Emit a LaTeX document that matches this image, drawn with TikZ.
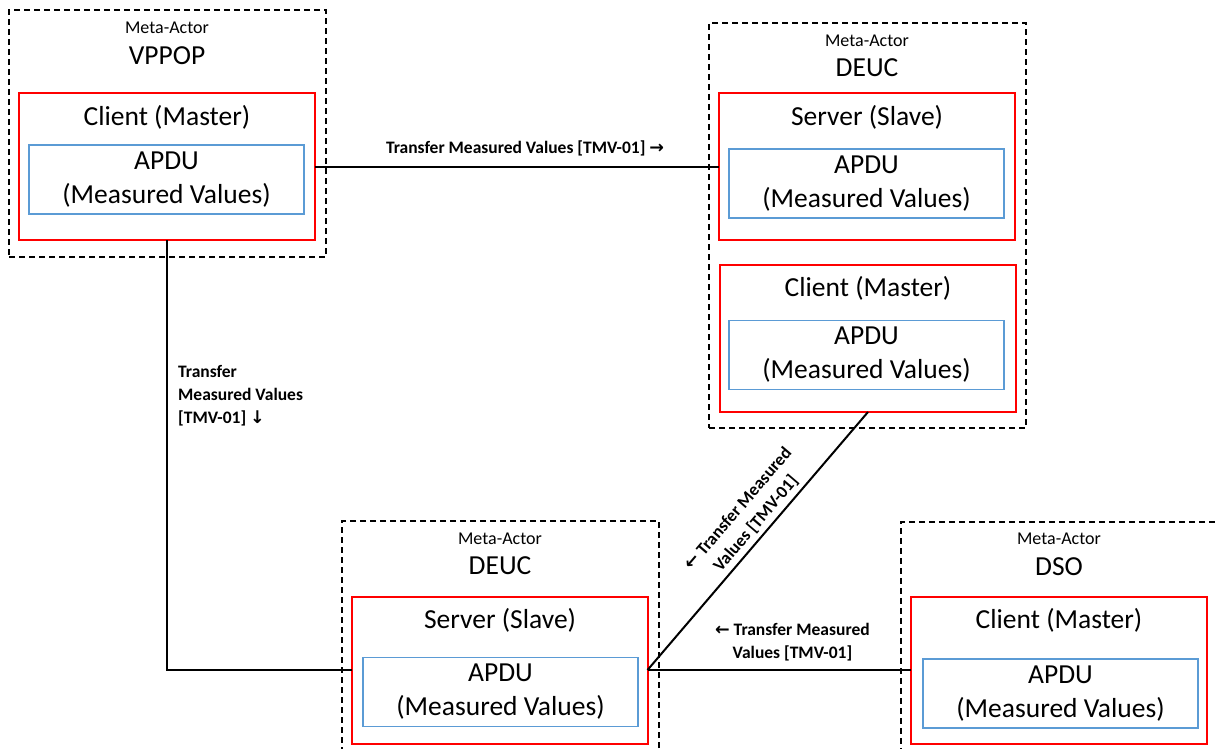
\documentclass[tikz,border=0pt]{standalone}
\usepackage{fontspec}
\setmainfont{Carlito}
\newfontfamily\arrowfont{DejaVu Sans}
\usepackage{xcolor}
\definecolor{rolered}{RGB}{255,0,0}
\definecolor{apdublue}{RGB}{91,155,213}

\tikzset{
    actorbox/.style={draw, dash pattern=on 6pt off 4pt, line width=1.3pt, minimum width=317pt, inner sep=0pt, outer sep=0pt},
    rolebox/.style={draw=rolered, line width=2pt, minimum width=296pt, minimum height=147pt, inner sep=0pt, outer sep=0pt},
    apdubox/.style={draw=apdublue, line width=1.5pt, minimum width=275pt, minimum height=69pt, inner sep=0pt, align=center, font=\fontsize{27.5}{34}\selectfont},
    metatext/.style={font=\fontsize{18}{22}\selectfont},
    bigtext/.style={font=\fontsize{27.5}{34}\selectfont},
    link/.style={line width=2pt},
    linklabel/.style={font=\bfseries\fontsize{17.5}{23}\selectfont, align=center, inner sep=2pt},
}

\begin{document}
\begin{tikzpicture}[x=1pt,y=-1pt]
    \useasboundingbox (0,0) rectangle (1215,749);
    \fill[white] (0,0) rectangle (1215,749);

    % meta-actor VPPOP
    \node[actorbox, minimum height=247pt] (vppop) at (167.5,133.5) {};
    \node[metatext] (vppopmeta) at (167,28) {Meta-Actor};
    \node[bigtext] (vppopname) at (167,56) {VPPOP};
    \node[rolebox] (vppopclient) at (167,166.5) {};
    \node[bigtext] (vppopclienttext) at (167,117) {Client (Master)};
    \node[apdubox] (vppopapdu) at (166.5,179.5) {APDU\\(Measured Values)};

    % meta-actor DEUC (top)
    \node[actorbox, minimum height=405pt] (deuc) at (867.5,225.5) {};
    \node[metatext] (deucmeta) at (867,41) {Meta-Actor};
    \node[bigtext] (deucname) at (867,68) {DEUC};
    \node[rolebox] (deucserver) at (867,166.5) {};
    \node[bigtext] (deucservertext) at (867,117) {Server (Slave)};
    \node[apdubox] (deucserverapdu) at (866.5,183.5) {APDU\\(Measured Values)};
    \node[rolebox] (deucclient) at (868,338.5) {};
    \node[bigtext] (deucclienttext) at (868,288) {Client (Master)};
    \node[apdubox] (deucclientapdu) at (866.5,355) {APDU\\(Measured Values)};

    % meta-actor DEUC (bottom)
    \node[actorbox, minimum height=260pt] (deucbot) at (500.5,651) {};
    \node[metatext] (deucbotmeta) at (500,539) {Meta-Actor};
    \node[bigtext] (deucbotname) at (500,566) {DEUC};
    \node[rolebox] (deucbotserver) at (499.5,670) {};
    \node[bigtext] (deucbotservertext) at (500,620) {Server (Slave)};
    \node[apdubox] (deucbotapdu) at (500.5,692) {APDU\\(Measured Values)};

    % meta-actor DSO
    \node[actorbox, minimum height=260pt] (dso) at (1059.5,652) {};
    \node[metatext] (dsometa) at (1059,539) {Meta-Actor};
    \node[bigtext] (dsoname) at (1059,567) {DSO};
    \node[rolebox] (dsoclient) at (1059,670) {};
    \node[bigtext] (dsoclienttext) at (1059,620) {Client (Master)};
    \node[apdubox] (dsoapdu) at (1060.5,693.5) {APDU\\(Measured Values)};

    % transfers
    \draw[link] (vppopclient.east) -- node[linklabel, pos=0.52, above=7pt] (tmvtop) {Transfer Measured Values [TMV-01] {\arrowfont →}} (deucserver.west);
    \draw[link] (vppopclient.south) |- (deucbotserver.west);
    \node[linklabel, align=left, anchor=west] (tmvleft) at (176,396) {Transfer\\Measured Values\\{[TMV-01] {\arrowfont ↓}}};
    \draw[link] (deucbotserver.east) -- node[linklabel, pos=0.535, sloped, above=2pt] (tmvdiag) {{\arrowfont ←} Transfer Measured\\Values [TMV-01]} (deucclient.south);
    \draw[link] (deucbotserver.east) -- node[linklabel, pos=0.55, above=6pt] (tmvbot) {{\arrowfont ←} Transfer Measured\\Values [TMV-01]} (dsoclient.west);
\end{tikzpicture}
\end{document}
